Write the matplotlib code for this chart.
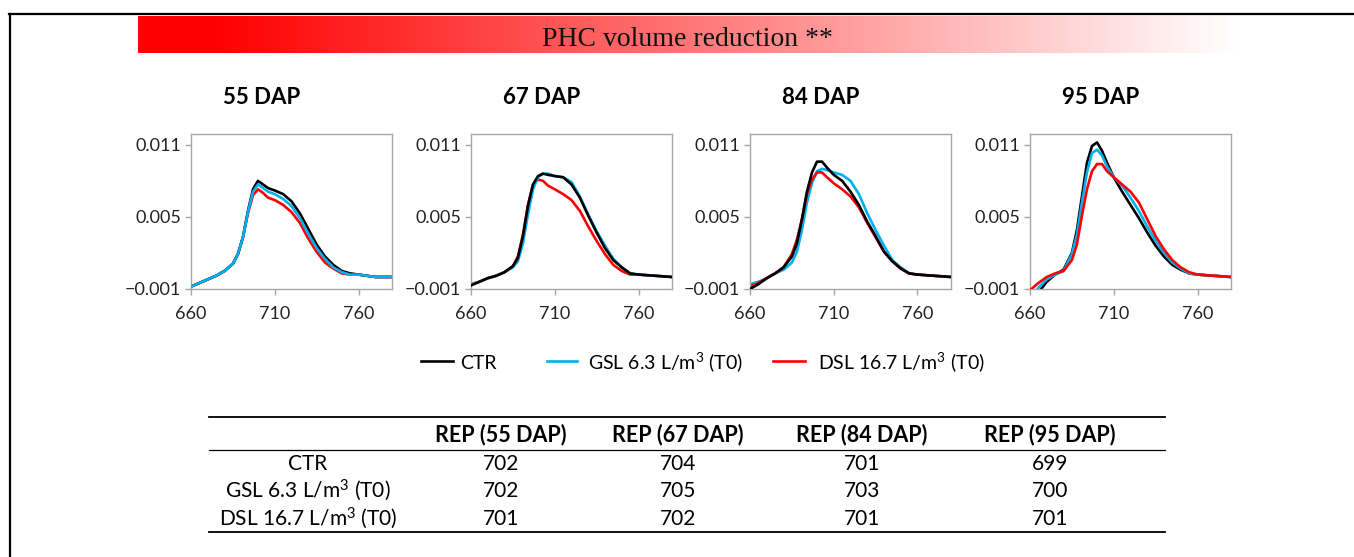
import numpy as np
import matplotlib.pyplot as plt
from matplotlib.lines import Line2D

plt.rcParams['font.family'] = ['Lato', 'DejaVu Sans']
plt.rcParams['mathtext.fontset'] = 'custom'
plt.rcParams['mathtext.rm'] = 'Lato'
plt.rcParams['mathtext.it'] = 'Lato'
plt.rcParams['mathtext.bf'] = 'Lato:bold'

# wavelength (nm)
lam = [660, 665, 670, 675, 680, 685, 688, 691, 694, 697, 700, 703, 706,
       710, 715, 720, 725, 730, 735, 740, 745, 750, 755, 760, 770, 780]

ctr55 = [-0.0008, -0.0005, -0.0002, 0.0001, 0.0005, 0.0011, 0.0019, 0.0033, 0.0055, 0.0073, 0.0080, 0.0077, 0.0074,
         0.0072, 0.0069, 0.0063, 0.0053, 0.0040, 0.0027, 0.0017, 0.0010, 0.0005, 0.0003, 0.0002, 0.0000, 0.0000]
gsl55 = [-0.0008, -0.0005, -0.0002, 0.0001, 0.0005, 0.0011, 0.0019, 0.0033, 0.0054, 0.0071, 0.0077, 0.0074, 0.0071,
         0.0069, 0.0065, 0.0059, 0.0049, 0.0036, 0.0024, 0.0015, 0.0008, 0.0004, 0.0002, 0.0002, 0.0000, 0.0000]
dsl55 = [-0.0008, -0.0005, -0.0002, 0.0001, 0.0005, 0.0011, 0.0019, 0.0033, 0.0053, 0.0068, 0.0073, 0.0070, 0.0066,
         0.0064, 0.0060, 0.0054, 0.0045, 0.0032, 0.0021, 0.0012, 0.0007, 0.0003, 0.0002, 0.0002, 0.0000, 0.0000]

ctr67 = [-0.0007, -0.0004, -0.0001, 0.0001, 0.0004, 0.0009, 0.0016, 0.0034, 0.0059, 0.0077, 0.0084, 0.0086, 0.0085,
         0.0084, 0.0083, 0.0077, 0.0066, 0.0051, 0.0037, 0.0024, 0.0014, 0.0008, 0.0003, 0.0002, 0.0001, 0.0000]
gsl67 = [-0.0006, -0.0004, -0.0001, 0.0001, 0.0004, 0.0008, 0.0013, 0.0028, 0.0052, 0.0073, 0.0083, 0.0086, 0.0086,
         0.0084, 0.0083, 0.0079, 0.0067, 0.0052, 0.0038, 0.0026, 0.0015, 0.0008, 0.0003, 0.0002, 0.0001, 0.0000]
dsl67 = [-0.0006, -0.0004, -0.0001, 0.0001, 0.0004, 0.0009, 0.0017, 0.0035, 0.0060, 0.0077, 0.0081, 0.0080, 0.0076,
         0.0073, 0.0069, 0.0064, 0.0055, 0.0042, 0.0030, 0.0019, 0.0010, 0.0005, 0.0002, 0.0002, 0.0001, 0.0000]

ctr84 = [-0.0010, -0.0006, -0.0001, 0.0003, 0.0008, 0.0017, 0.0028, 0.0048, 0.0071, 0.0087, 0.0096, 0.0096, 0.0091,
         0.0085, 0.0080, 0.0071, 0.0060, 0.0046, 0.0034, 0.0021, 0.0013, 0.0007, 0.0003, 0.0002, 0.0001, 0.0000]
gsl84 = [-0.0006, -0.0004, -0.0001, 0.0003, 0.0006, 0.0012, 0.0021, 0.0039, 0.0062, 0.0078, 0.0088, 0.0090, 0.0089,
         0.0087, 0.0085, 0.0080, 0.0069, 0.0053, 0.0039, 0.0026, 0.0014, 0.0008, 0.0003, 0.0002, 0.0001, 0.0000]
dsl84 = [-0.0008, -0.0005, -0.0001, 0.0003, 0.0008, 0.0019, 0.0031, 0.0048, 0.0069, 0.0081, 0.0087, 0.0087, 0.0083,
         0.0078, 0.0073, 0.0067, 0.0058, 0.0045, 0.0033, 0.0021, 0.0013, 0.0007, 0.0003, 0.0002, 0.0001, 0.0000]

ctr95 = [-0.0025, -0.0013, -0.0004, 0.0002, 0.0006, 0.0020, 0.0039, 0.0067, 0.0095, 0.0109, 0.0112, 0.0105, 0.0095,
         0.0083, 0.0071, 0.0060, 0.0049, 0.0037, 0.0026, 0.0017, 0.0010, 0.0006, 0.0003, 0.0002, 0.0001, 0.0000]
gsl95 = [-0.0020, -0.0009, -0.0002, 0.0002, 0.0005, 0.0019, 0.0035, 0.0062, 0.0087, 0.0103, 0.0106, 0.0101, 0.0092,
         0.0083, 0.0076, 0.0066, 0.0055, 0.0042, 0.0030, 0.0020, 0.0012, 0.0007, 0.0003, 0.0002, 0.0001, 0.0000]
dsl95 = [-0.0011, -0.0005, 0.0000, 0.0003, 0.0005, 0.0014, 0.0027, 0.0051, 0.0073, 0.0088, 0.0094, 0.0094, 0.0088,
         0.0083, 0.0077, 0.0071, 0.0062, 0.0048, 0.0034, 0.0023, 0.0014, 0.0008, 0.0004, 0.0002, 0.0001, 0.0000]

panel_titles = ["55 DAP", "67 DAP", "84 DAP", "95 DAP"]
panel_data = [(ctr55, gsl55, dsl55), (ctr67, gsl67, dsl67), (ctr84, gsl84, dsl84), (ctr95, gsl95, dsl95)]
series_names = ["CTR", "GSL 6.3 L/m$^{3}$ (T0)", "DSL 16.7 L/m$^{3}$ (T0)"]
series_colors = ["black", "#00b0f0", "#ff0000"]
# which series sits on top in each panel
panel_zorder = [(2, 3, 1), (3, 2, 1), (3, 1, 2), (1, 2, 3)]

yticks = [-0.001, 0.005, 0.011]
yticklabels = ["\u22120.001", "0.005", "0.011"]
xticks = [660, 710, 760]

table_cols = ["REP (55 DAP)", "REP (67 DAP)", "REP (84 DAP)", "REP (95 DAP)"]
table_rows = ["CTR", "GSL 6.3 L/m$^{3}$ (T0)", "DSL 16.7 L/m$^{3}$ (T0)"]
rep_ctr = [702, 704, 701, 699]
rep_gsl = [702, 705, 703, 700]
rep_dsl = [701, 702, 701, 701]

W, H = 1354, 557
fig = plt.figure(figsize=(W / 100, H / 100), dpi=100)


def fx(px):
    return px / W


def fy(py):
    return 1 - py / H


# frame
fig.add_artist(Line2D([fx(9), 1], [fy(14), fy(14)], color="black", lw=1.6, transform=fig.transFigure))
fig.add_artist(Line2D([fx(10), fx(10)], [fy(14), 0], color="black", lw=1.6, transform=fig.transFigure))

# gradient banner
bax = fig.add_axes([fx(138), fy(53), fx(1238 - 138), (53 - 16) / H])
t = np.linspace(0, 1, 600)
t = np.clip((t - 0.07) / 0.93, 0, 1)
grad = np.ones((1, 600, 3))
grad[0, :, 1] = t
grad[0, :, 2] = t
bax.imshow(grad, aspect="auto", extent=[0, 1, 0, 1])
bax.axis("off")
fig.text(fx(687), fy(40), "PHC volume reduction **", family="Liberation Serif",
         fontsize=20, ha="center", va="center", color="#111111")

# the four panels
lefts = [191, 471, 750, 1030]
for i in range(4):
    ax = fig.add_axes([fx(lefts[i]), fy(289), fx(201), (289 - 134) / H])
    for k in range(3):
        ax.plot(lam, panel_data[i][k], color=series_colors[k], lw=1.9,
                zorder=panel_zorder[i][k], label=series_names[k])
    ax.set_xlim(660, 780)
    ax.set_ylim(-0.001, 0.0119)
    ax.set_xticks(xticks)
    ax.set_yticks(yticks)
    ax.set_yticklabels(yticklabels)
    for s in ax.spines.values():
        s.set_color("#a6a6a6")
        s.set_linewidth(1.0)
    ax.tick_params(colors="#a6a6a6", labelcolor="#222222", labelsize=13, length=4, width=1.0)
    ax.tick_params(axis="x", pad=8)
    ax.tick_params(axis="y", pad=3)
    fig.text(fx(lefts[i] + 71), fy(98), panel_titles[i], fontsize=16, fontweight="bold",
             ha="center", va="center")

# legend, laid out by hand to follow the reference spacing
leg_line_x = [(421, 453), (547, 577), (773, 805)]
leg_text_x = [460, 588, 818]
for k in range(3):
    fig.add_artist(Line2D([fx(leg_line_x[k][0]), fx(leg_line_x[k][1])], [fy(361), fy(361)],
                          color=series_colors[k], lw=1.9, transform=fig.transFigure))
    fig.text(fx(leg_text_x[k]), fy(369), series_names[k], fontsize=14, ha="left", va="baseline")

# table
tl = dict(transform=fig.transFigure, color="black")
fig.add_artist(Line2D([fx(209), fx(1165)], [fy(417), fy(417)], lw=1.3, **tl))
fig.add_artist(Line2D([fx(209), fx(1165)], [fy(450), fy(450)], lw=0.9, **tl))
fig.add_artist(Line2D([fx(209), fx(1165)], [fy(532), fy(532)], lw=1.3, **tl))

col_x = [501, 678, 862, 1050]
row_base = [470, 497, 525]
for j in range(4):
    fig.text(fx(col_x[j]), fy(435), table_cols[j], fontsize=15.5, fontweight="bold", ha="center", va="center")
rep_vals = [rep_ctr, rep_gsl, rep_dsl]
for r in range(3):
    fig.text(fx(308), fy(row_base[r]), table_rows[r], fontsize=15, ha="center", va="baseline")
    for j in range(4):
        fig.text(fx(col_x[j]), fy(row_base[r]), str(rep_vals[r][j]), fontsize=15, ha="center", va="baseline")

fig.savefig("out.png", dpi=100)
